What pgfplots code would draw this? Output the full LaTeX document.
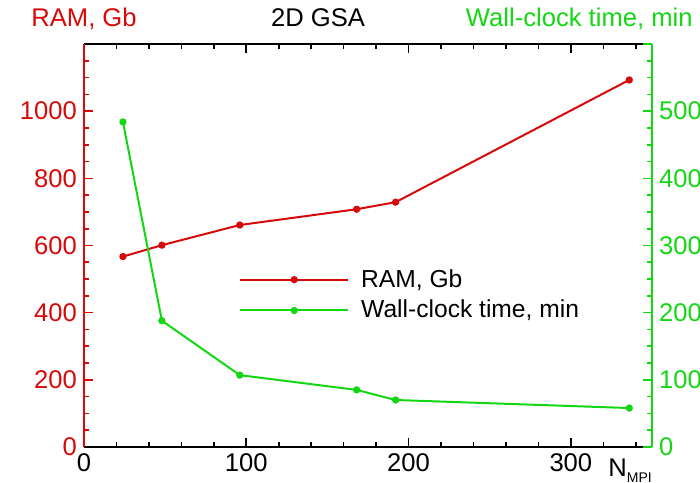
\documentclass[border=0pt]{standalone}
\usepackage{fontspec}
\setmainfont{Liberation Sans}
\usepackage{pgfplots}
\pgfplotsset{compat=1.18}
\definecolor{ramred}{RGB}{215,10,10}
\definecolor{timegreen}{RGB}{20,215,20}

\begin{document}
\begin{tikzpicture}
\pgfplotsset{
  every axis/.append style={
    width=284pt, height=201.5pt, scale only axis,
    font=\fontsize{12.8}{15}\selectfont,
    /pgf/number format/assume math mode=true,
    xmin=0, xmax=350,
    major tick length=4.5pt, minor tick length=2.5pt,
    every tick/.style={line width=0.8pt},
  },
}
% left axis: RAM
\begin{axis}[
  name=ax,
  ymin=0, ymax=1200,
  separate axis lines,
  x axis line style={black, line width=1pt},
  y axis line style={ramred, line width=1pt},
  xtick={0,100,200,300,400},
  xticklabels={0,100,200,300,},
  minor x tick num=4,
  ytick={0,200,...,1200},
  yticklabels={0,200,400,600,800,1000,},
  minor y tick num=3,
  ytick pos=left,
  ytick style={ramred},
  yticklabel style={ramred},
  xtick style={black},
]
\addplot[ramred, line width=1pt, mark=*, mark size=1.3pt]
  coordinates {(24,567)(48,601)(96,661)(168,708)(192,729)(336,1093)};
\end{axis}
% right axis: wall-clock time
\begin{axis}[
  ymin=0, ymax=600,
  axis x line=none,
  axis y line*=right,
  y axis line style={timegreen, line width=1pt, -},
  ytick={0,100,...,600},
  yticklabels={0,100,200,300,400,500,},
  minor y tick num=3,
  ytick style={timegreen},
  yticklabel style={timegreen},
  legend style={at={(0.262,0.377)}, anchor=west, draw=none, fill=none,
    font=\fontsize{12.3}{14}\selectfont, row sep=1pt,
    nodes={inner xsep=6pt}},
  legend cell align=left,
  legend image code/.code={
    \draw[#1, mark repeat=2, mark phase=2] plot coordinates {(0pt,0pt)(27pt,0pt)(54pt,0pt)};
  },
]
\addlegendimage{ramred, line width=1pt, mark=*, mark size=1.3pt}
\addlegendentry{RAM, Gb}
\addplot[timegreen, line width=1pt, mark=*, mark size=1.3pt]
  coordinates {(24,484)(48,188)(96,107)(168,85)(192,70)(336,58)};
\addlegendentry{Wall-clock time, min}
\end{axis}
\node[anchor=base, text=ramred, font=\fontsize{12.8}{15}\selectfont] at ([yshift=8.5pt]ax.north west) {RAM, Gb};
\node[anchor=base, font=\fontsize{12.8}{15}\selectfont] at ([xshift=-25pt,yshift=8.5pt]ax.north) {2D GSA};
\node[anchor=base east, inner sep=0pt, text=timegreen, font=\fontsize{12.8}{15}\selectfont] at ([xshift=20.5pt,yshift=8.5pt]ax.north east) {Wall-clock time, min};
\node[anchor=north west, inner sep=0pt, font=\fontsize{12.8}{15}\selectfont] at ([xshift=262pt,yshift=-5.5pt]ax.south west) {N\raisebox{-0.45ex}{\fontsize{7}{8}\selectfont MPI}};
\pgfresetboundingbox
\useasboundingbox ([xshift=-42pt,yshift=-17.5pt]ax.south west) rectangle ([xshift=24pt,yshift=22pt]ax.north east);
\end{tikzpicture}
\end{document}
